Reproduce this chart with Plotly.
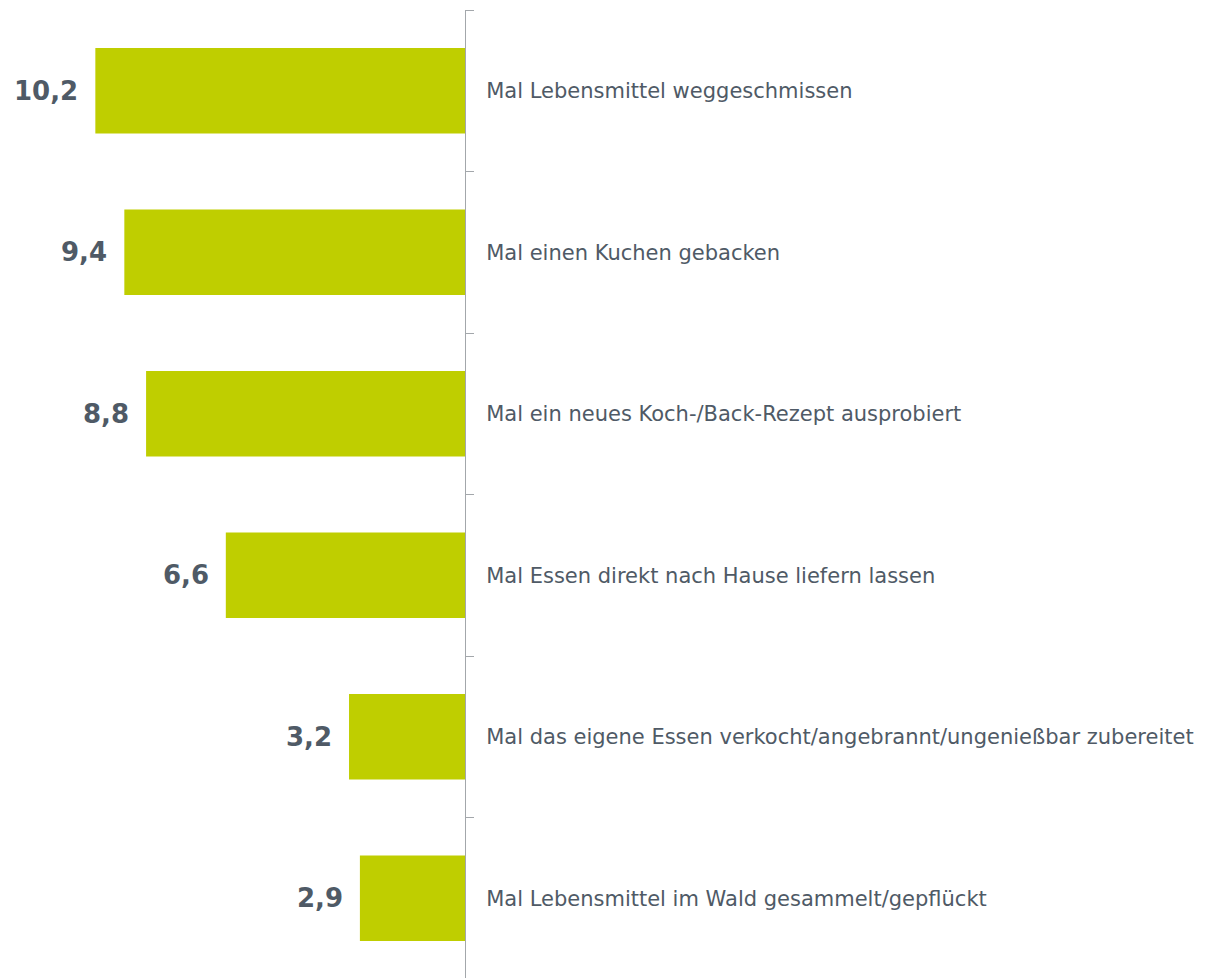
import plotly.graph_objects as go

categories = [
    "Mal Lebensmittel weggeschmissen",
    "Mal einen Kuchen gebacken",
    "Mal ein neues Koch-/Back-Rezept ausprobiert",
    "Mal Essen direkt nach Hause liefern lassen",
    "Mal das eigene Essen verkocht/angebrannt/ungenießbar zubereitet",
    "Mal Lebensmittel im Wald gesammelt/gepflückt",
]
values = [10.2, 9.4, 8.8, 6.6, 3.2, 2.9]

bar_color = "#bfce00"
text_color = "#4f5a66"
axis_color = "#a3a7ab"

fig = go.Figure()
fig.add_trace(go.Bar(
    x=values,
    y=categories,
    orientation="h",
    marker=dict(color=bar_color, line=dict(width=0)),
    width=0.53,
    hoverinfo="skip",
))

for v, c in zip(values, categories):
    fig.add_annotation(
        x=v, y=c, text="<b>" + f"{v:.1f}".replace(".", ",") + "</b>",
        showarrow=False, xanchor="right", yanchor="middle", xshift=-15,
        font=dict(family="DejaVu Sans", size=26, color=text_color),
    )

fig.update_layout(
    width=1216, height=978,
    margin=dict(l=0, r=759, t=2, b=7),
    paper_bgcolor="white", plot_bgcolor="white",
    showlegend=False,
    font=dict(family="DejaVu Sans", color=text_color),
    xaxis=dict(
        range=[12.61, 0], visible=False, showgrid=False, zeroline=False,
    ),
    yaxis=dict(
        side="right", autorange="reversed", type="category",
        showline=True, linecolor=axis_color, linewidth=1,
        ticks="outside", tickson="boundaries", ticklen=8, tickcolor=axis_color,
        showgrid=False, ticklabelstandoff=16,
        tickfont=dict(family="DejaVu Sans", size=21, color=text_color),
    ),
)

fig.write_html("out.html")
